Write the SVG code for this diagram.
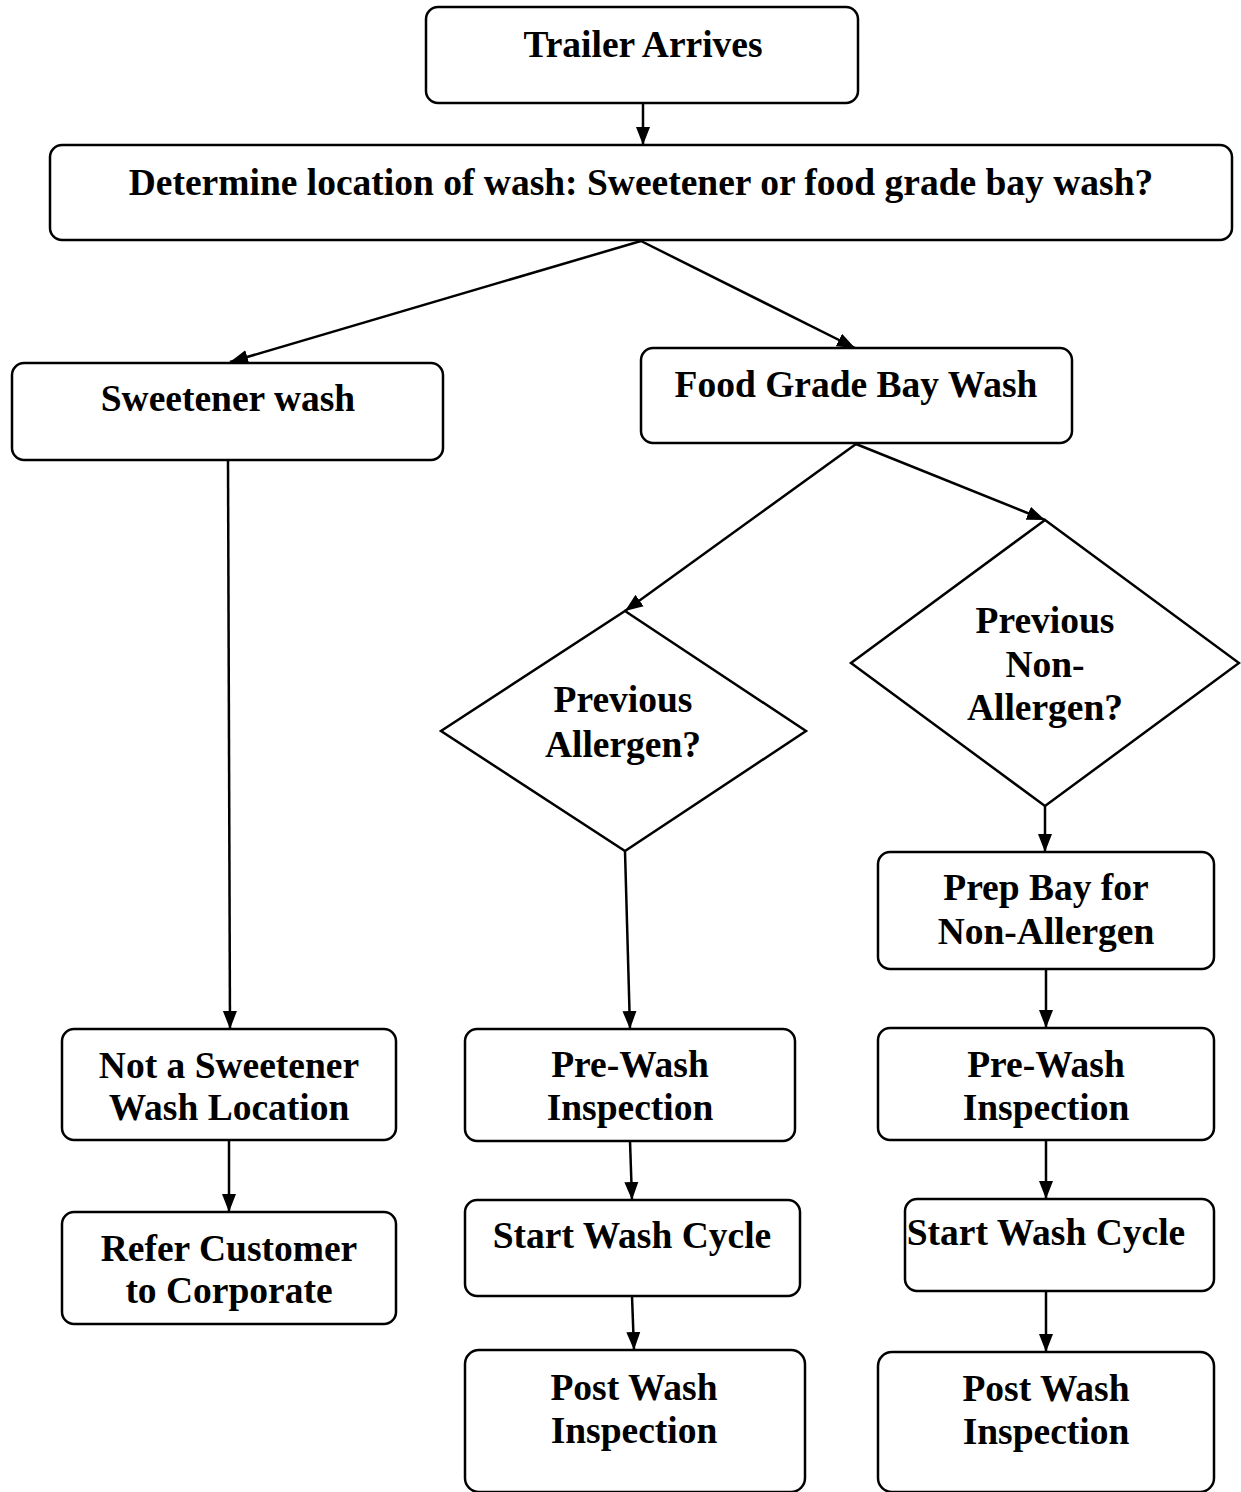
<svg xmlns="http://www.w3.org/2000/svg" width="1241" height="1492" viewBox="0 0 1241 1492">
<style>
.box{fill:#fff;stroke:#000;stroke-width:2.5}
.t{font-family:"Liberation Serif","Times New Roman",serif;font-weight:bold;font-size:37.5px;fill:#000;text-anchor:middle}
.c{fill:none;stroke:#000;stroke-width:2.5}
</style>
<defs>
<marker id="ah" markerUnits="userSpaceOnUse" markerWidth="18" markerHeight="15" refX="18" refY="7.5" orient="auto">
<path d="M0,0.5 L18,7.5 L0,14.5 Z" fill="#000"/>
</marker>
</defs>
<rect width="1241" height="1492" fill="#fff"/>
<g id="connectors">
<line class="c" x1="643" y1="103" x2="643" y2="145" marker-end="url(#ah)"/>
<line class="c" x1="641" y1="241" x2="230" y2="362" marker-end="url(#ah)"/>
<line class="c" x1="641" y1="241" x2="855" y2="348" marker-end="url(#ah)"/>
<line class="c" x1="856" y1="444" x2="625" y2="611" marker-end="url(#ah)"/>
<line class="c" x1="856" y1="444" x2="1045" y2="520" marker-end="url(#ah)"/>
<line class="c" x1="228" y1="460" x2="230" y2="1029" marker-end="url(#ah)"/>
<line class="c" x1="229" y1="1140" x2="229" y2="1212" marker-end="url(#ah)"/>
<line class="c" x1="625" y1="851" x2="630" y2="1029" marker-end="url(#ah)"/>
<line class="c" x1="630" y1="1141" x2="632" y2="1200" marker-end="url(#ah)"/>
<line class="c" x1="632" y1="1296" x2="634" y2="1350" marker-end="url(#ah)"/>
<line class="c" x1="1045" y1="806" x2="1045" y2="852" marker-end="url(#ah)"/>
<line class="c" x1="1046" y1="969" x2="1046" y2="1028" marker-end="url(#ah)"/>
<line class="c" x1="1046" y1="1140" x2="1046" y2="1199" marker-end="url(#ah)"/>
<line class="c" x1="1046" y1="1291" x2="1046" y2="1352" marker-end="url(#ah)"/>
</g>
<g id="trailer">
<rect class="box" x="426" y="7" width="432" height="96" rx="12"/>
<text class="t" x="643" y="57">Trailer Arrives</text>
</g>
<g id="determine">
<rect class="box" x="50" y="145" width="1182" height="95" rx="12"/>
<text class="t" x="641" y="195">Determine location of wash: Sweetener or food grade bay wash?</text>
</g>
<g id="sweetener">
<rect class="box" x="12" y="363" width="431" height="97" rx="12"/>
<text class="t" x="228" y="411">Sweetener wash</text>
</g>
<g id="foodgrade">
<rect class="box" x="641" y="348" width="431" height="95" rx="12"/>
<text class="t" x="856" y="397">Food Grade Bay Wash</text>
</g>
<g id="prevAllergen">
<polygon class="box" points="625,611 806,731 625,851 441,731"/>
<text class="t" x="623" y="712">Previous</text>
<text class="t" x="623" y="757">Allergen?</text>
</g>
<g id="prevNonAllergen">
<polygon class="box" points="1045,520 1239,663 1045,806 851,663"/>
<text class="t" x="1045" y="633">Previous</text>
<text class="t" x="1045" y="677">Non-</text>
<text class="t" x="1045" y="720">Allergen?</text>
</g>
<g id="prepBay">
<rect class="box" x="878" y="852" width="336" height="117" rx="12"/>
<text class="t" x="1046" y="900">Prep Bay for</text>
<text class="t" x="1046" y="944">Non-Allergen</text>
</g>
<g id="notSweetener">
<rect class="box" x="62" y="1029" width="334" height="111" rx="12"/>
<text class="t" x="229" y="1078">Not a Sweetener</text>
<text class="t" x="229" y="1120">Wash Location</text>
</g>
<g id="refer">
<rect class="box" x="62" y="1212" width="334" height="112" rx="12"/>
<text class="t" x="229" y="1261">Refer Customer</text>
<text class="t" x="229" y="1303">to Corporate</text>
</g>
<g id="preWashMid">
<rect class="box" x="465" y="1029" width="330" height="112" rx="12"/>
<text class="t" x="630" y="1077">Pre-Wash</text>
<text class="t" x="630" y="1120">Inspection</text>
</g>
<g id="startMid">
<rect class="box" x="465" y="1200" width="335" height="96" rx="12"/>
<text class="t" x="632" y="1248">Start Wash Cycle</text>
</g>
<g id="postMid">
<rect class="box" x="465" y="1350" width="340" height="142" rx="14"/>
<text class="t" x="634" y="1400">Post Wash</text>
<text class="t" x="634" y="1443">Inspection</text>
</g>
<g id="preWashRight">
<rect class="box" x="878" y="1028" width="336" height="112" rx="12"/>
<text class="t" x="1046" y="1077">Pre-Wash</text>
<text class="t" x="1046" y="1120">Inspection</text>
</g>
<g id="startRight">
<rect class="box" x="905" y="1199" width="309" height="92" rx="12"/>
<text class="t" x="1046" y="1245">Start Wash Cycle</text>
</g>
<g id="postRight">
<rect class="box" x="878" y="1352" width="336" height="140" rx="14"/>
<text class="t" x="1046" y="1401">Post Wash</text>
<text class="t" x="1046" y="1444">Inspection</text>
</g>
</svg>
